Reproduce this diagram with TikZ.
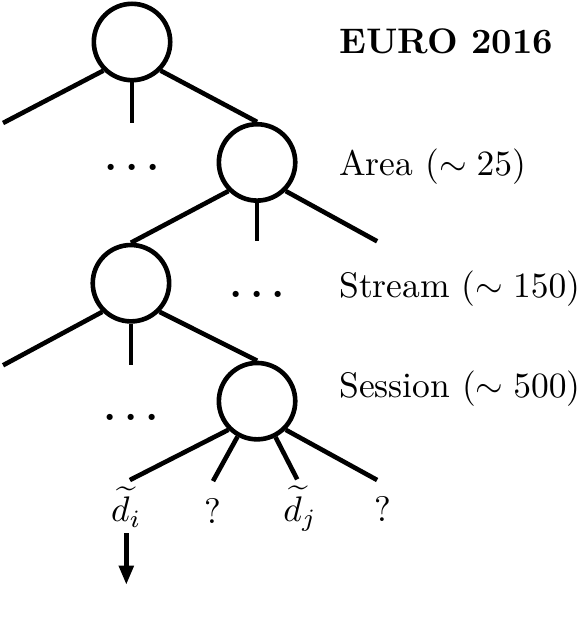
\documentclass[tikz,border=0pt]{standalone}
\usepackage{amsmath}
\usetikzlibrary{positioning,arrows.meta}

\newcommand{\leveldots}{.\kern2.2pt.\kern2.2pt.}

\begin{document}
\begin{tikzpicture}[>={Triangle[length=5.4pt,width=4pt]},line width=1.3pt,on grid,
                    vertex/.style={circle,draw,minimum size=21.5pt,inner sep=0pt},
                    dots/.style={font=\large\bfseries,inner sep=0pt},
                    level/.style={anchor=base west,inner sep=0pt},
                    leaf/.style={anchor=base,inner sep=1pt}]
  \useasboundingbox (-37.16pt,-162.14pt) rectangle (127.24pt,11.82pt);

  \node[vertex]         (R)                                      {};
  \node[vertex]         (A) [below right=33.9pt and 35.2pt of R] {};
  \node[vertex]         (S) [below left=34pt and 35.5pt of A]    {};
  \node[vertex]         (E) [below right=33.2pt and 35.5pt of S] {};

  % free ends of the branches
  \coordinate[below left=22.8pt and 36.3pt of R]  (Rl);
  \coordinate[below=22.8pt of R]                   (Rm);
  \coordinate[below=22.2pt of A]                   (Am);
  \coordinate[below right=22.2pt and 33.8pt of A] (Ar);
  \coordinate[below left=23.1pt and 36pt of S]    (Sl);
  \coordinate[below=23.1pt of S]                   (Sm);
  \coordinate[below left=22.2pt and 35.8pt of E]  (El);
  \coordinate[below left=22.5pt and 12.4pt of E]  (Ei);
  \coordinate[below right=22pt and 11.3pt of E]   (Ej);
  \coordinate[below right=22.2pt and 33.8pt of E] (Er);

  \path (R.south west) edge (Rl)
        (R.south)      edge (Rm)
        (R.south east) edge (A.north)
        (A.south west) edge (S.north)
        (A.south)      edge (Am)
        (A.south east) edge (Ar)
        (S.south west) edge (Sl)
        (S.south)      edge (Sm)
        (S.south east) edge (E.north)
        (E.south west) edge (El)
        (E)            edge (Ei)
        (E)            edge (Ej)
        (E.south east) edge (Er);

  \node[dots] (Rdots) [below=11pt of Rm]   {\leveldots};
  \node[dots] (Adots) [below=13.4pt of Am] {\leveldots};
  \node[dots] (Sdots) [below=13.3pt of Sm] {\leveldots};

  \node (euro)    [right=57.7pt of R, level, yshift=-3.1pt] {\textbf{EURO 2016}};
  \node (area)    [below=34.6pt of euro.base west, level]    {Area ($\sim 25$)};
  \node (stream)  [below=34.1pt of area.base west, level]    {Stream ($\sim 150$)};
  \node (session) [below=28.4pt of stream.base west, level]  {Session ($\sim 500$)};

  \node (di) [below=11.8pt of El, leaf, xshift=-1pt] {$\widetilde{d}_i$};
  \node (qi) [below=11.8pt of Ei, leaf]              {?};
  \node (dj) [below=11.8pt of Ej, leaf, xshift=0.8pt] {$\widetilde{d}_j$};
  \node (qj) [below=11.8pt of Er, leaf, xshift=1.5pt] {?};

  \coordinate[below=29.5pt of El, xshift=-1pt] (dout);
  \draw[->] (di) -- (dout);
\end{tikzpicture}
\end{document}
